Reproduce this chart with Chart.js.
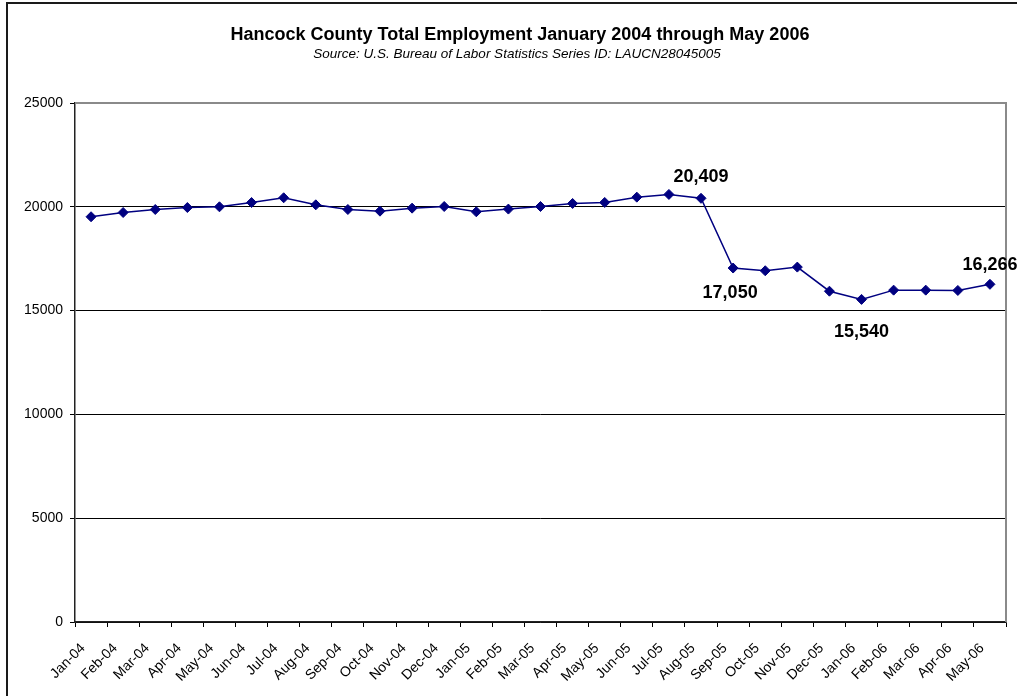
<!DOCTYPE html>
<html>
<head>
<meta charset="utf-8">
<script src="https://cdn.jsdelivr.net/npm/chart.js@4.4.1/dist/chart.umd.min.js"></script>
<style>
    html, body { margin: 0; padding: 0; background: #fff; overflow: hidden; }
    #wrap { position: relative; width: 1017px; height: 696px; }
    #marco {
        position: absolute; left: 6px; top: 2px; width: 1100px; height: 800px;
        border: 2px solid #1a1a1a; pointer-events: none;
    }
</style>
</head>
<body>
<div id="wrap">
    <canvas id="empleo" width="1017" height="696"></canvas>
    <div id="marco"></div>
</div>
<script>
    const meses = [
        'Jan-04', 'Feb-04', 'Mar-04', 'Apr-04', 'May-04', 'Jun-04', 'Jul-04', 'Aug-04',
        'Sep-04', 'Oct-04', 'Nov-04', 'Dec-04', 'Jan-05', 'Feb-05', 'Mar-05', 'Apr-05',
        'May-05', 'Jun-05', 'Jul-05', 'Aug-05', 'Sep-05', 'Oct-05', 'Nov-05', 'Dec-05',
        'Jan-06', 'Feb-06', 'Mar-06', 'Apr-06', 'May-06'
    ]
    const empleo = [
        19520, 19725, 19870, 19965, 20000, 20205, 20435, 20095,
        19870, 19790, 19935, 20015, 19760, 19890, 20015, 20160,
        20210, 20465, 20595, 20409, 17050, 16920, 17095, 15935,
        15540, 15985, 15985, 15970, 16266
    ]
    const ticksY = [0, 5000, 10000, 15000, 20000, 25000]
    const titulo = 'Hancock County Total Employment January 2004 through May 2006'
    const subtitulo = 'Source: U.S. Bureau of Labor Statistics Series ID: LAUCN28045005'

    // meses con etiqueta de valor: desplazamiento del texto respecto al punto
    const etiquetas = {
        19: { dx: 0, dy: -21 },
        20: { dx: -3, dy: 25 },
        24: { dx: 0, dy: 33 },
        28: { dx: 0, dy: -19 }
    }

    const fuente = '"Liberation Sans", Arial, sans-serif'

    const encabezado = {
        id: 'encabezado',
        afterDraw(chart) {
            const ctx = chart.ctx
            ctx.save()
            ctx.fillStyle = '#000'
            ctx.textAlign = 'center'
            ctx.textBaseline = 'middle'
            ctx.font = 'bold 18px ' + fuente
            ctx.fillText(titulo, 520, 35)
            ctx.font = 'italic 13.5px ' + fuente
            ctx.fillText(subtitulo, 517, 54)
            ctx.restore()
        }
    }

    const marcoArea = {
        id: 'marcoArea',
        beforeDatasetsDraw(chart) {
            const { ctx, chartArea: a } = chart
            ctx.save()
            ctx.strokeStyle = '#8a8a8a'
            ctx.lineWidth = 2
            ctx.beginPath()
            ctx.moveTo(a.left, a.top)
            ctx.lineTo(a.right, a.top)
            ctx.lineTo(a.right, a.bottom)
            ctx.stroke()
            ctx.restore()
        }
    }

    const valores = {
        id: 'valores',
        afterDatasetsDraw(chart) {
            const ctx = chart.ctx
            const puntos = chart.getDatasetMeta(0).data
            ctx.save()
            ctx.fillStyle = '#000'
            ctx.font = 'bold 18px ' + fuente
            ctx.textAlign = 'center'
            ctx.textBaseline = 'middle'
            Object.keys(etiquetas).forEach(i => {
                const p = puntos[i]
                const e = etiquetas[i]
                ctx.fillText(empleo[i].toLocaleString('en-US'), p.x + e.dx, p.y + e.dy)
            })
            ctx.restore()
        }
    }

    const ctx = document.getElementById('empleo').getContext('2d')
    const grafica = new Chart(ctx, {
        type: 'line',
        data: {
            labels: meses,
            datasets: [{
                label: 'Total Employment',
                data: empleo,
                borderColor: '#000080',
                backgroundColor: '#000080',
                borderWidth: 1.5,
                pointStyle: 'rectRot',
                pointRadius: 5,
                pointBorderWidth: 1,
                tension: 0
            }]
        },
        options: {
            responsive: false,
            animation: false,
            layout: {
                padding: { top: 103, right: 11, left: 0, bottom: 0 }
            },
            scales: {
                x: {
                    offset: true,
                    afterFit: scale => { scale.height = 74 },
                    grid: {
                        offset: true,
                        drawOnChartArea: false,
                        tickLength: 5,
                        color: '#000'
                    },
                    border: { color: '#222', width: 1.5 },
                    ticks: {
                        autoSkip: false,
                        minRotation: 45,
                        maxRotation: 45,
                        padding: 13,
                        labelOffset: -8,
                        color: '#000',
                        font: { family: fuente, size: 14 }
                    }
                },
                y: {
                    min: 0,
                    max: 25000,
                    afterFit: scale => { scale.width = 75 },
                    afterBuildTicks: scale => {
                        scale.ticks = ticksY.map(v => ({ value: v }))
                    },
                    grid: {
                        color: c => c.tick && c.tick.value === 25000 ? '#8a8a8a' : '#000',
                        tickColor: '#000',
                        tickLength: 5
                    },
                    border: { color: '#222', width: 1.5 },
                    ticks: {
                        padding: 7,
                        color: '#000',
                        font: { family: fuente, size: 14 },
                        callback: v => String(v)
                    }
                }
            },
            plugins: {
                legend: { display: false },
                tooltip: { enabled: false }
            }
        },
        plugins: [marcoArea, valores, encabezado]
    })
</script>
</body>
</html>
